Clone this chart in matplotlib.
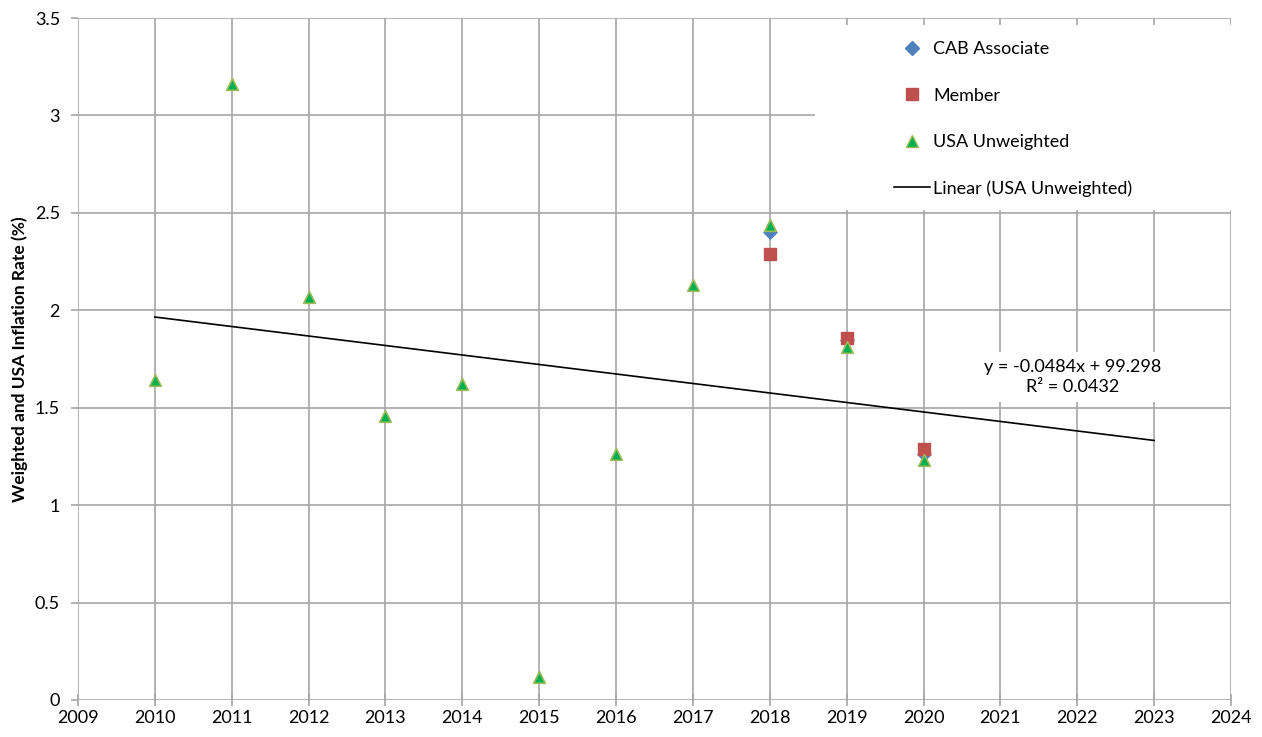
import matplotlib
matplotlib.use("Agg")
import matplotlib.pyplot as plt
import numpy as np
from matplotlib.lines import Line2D
from matplotlib.patches import Rectangle

plt.rcParams['font.family'] = ['Lato', 'DejaVu Sans']

years_usa = [2010, 2011, 2012, 2013, 2014, 2015, 2016, 2017, 2018, 2019, 2020]
usa_unweighted = [1.64, 3.16, 2.07, 1.46, 1.62, 0.12, 1.26, 2.13, 2.44, 1.81, 1.23]
years_member = [2018, 2019, 2020]
member = [2.29, 1.86, 1.29]
years_cab = [2018, 2019, 2020]
cab_associate = [2.40, 1.85, 1.26]
trend_end_year = 2023
x_ticks = list(range(2009, 2025))
y_ticks = [0, 0.5, 1, 1.5, 2, 2.5, 3, 3.5]
y_tick_labels = ['0', '0.5', '1', '1.5', '2', '2.5', '3', '3.5']
equation_text = "y = -0.0484x + 99.298\nR² = 0.0432"

fig = plt.figure(figsize=(12.62, 7.37), dpi=100)
ax = fig.add_axes([78/1262, 1-700/737, (1231-78)/1262, (700-18)/737])

grid_c = '#A6A6A6'
ax.set_xlim(2009, 2024)
ax.set_ylim(0, 3.5)
ax.set_xticks(x_ticks)
ax.set_yticks(y_ticks)
ax.set_yticklabels(y_tick_labels)
ax.grid(True, color=grid_c, linewidth=1.2, zorder=0)
for s in ax.spines.values():
    s.set_visible(False)
ax.tick_params(axis='both', colors=grid_c, labelcolor='black', labelsize=13, length=5, width=1.2)
ax.tick_params(axis='x', direction='inout', length=8, pad=3)
ax.tick_params(axis='y', direction='out', length=5, pad=8)

coef = np.polyfit(years_usa, usa_unweighted, 1)
xt = np.array([years_usa[0], trend_end_year])
ax.plot(xt, np.polyval(coef, xt), color='black', linewidth=1.2, zorder=3)

ax.scatter(years_cab, cab_associate, marker='D', s=45, color='#4F81BD', edgecolors='#4F81BD', zorder=4)
ax.scatter(years_member, member, marker='s', s=80, color='#C0504D', edgecolors='#C0504D', zorder=5)
ax.scatter(years_usa, usa_unweighted, marker='^', s=70, color='#00B050', edgecolors='#9BBB59', linewidths=1.2, zorder=6)

ax.text(2021.94, 1.658, equation_text, ha='center', va='center', fontsize=13, linespacing=1.3,
        bbox=dict(facecolor='white', edgecolor='none', pad=5), zorder=7)

ax.set_ylabel('Weighted and USA Inflation Rate (%)', fontsize=12.5, fontweight='bold', labelpad=5)

# white legend background
ax.add_patch(Rectangle((0.639, 0.7185), 0.361, 0.2715, transform=ax.transAxes,
                       facecolor='white', edgecolor='none', zorder=7))

handles = [
    Line2D([], [], marker='D', color='#4F81BD', linestyle='none', markersize=7),
    Line2D([], [], marker='s', color='#C0504D', linestyle='none', markersize=9),
    Line2D([], [], marker='^', color='#00B050', markeredgecolor='#9BBB59', linestyle='none', markersize=9),
    Line2D([], [], color='black', linewidth=1.2),
]
labels = ['CAB Associate', 'Member', 'USA Unweighted', 'Linear (USA Unweighted)']
leg = ax.legend(handles, labels, loc='upper left', bbox_to_anchor=(0.708, 0.966), frameon=False,
                fontsize=13, labelspacing=1.68, handlelength=2.0, handletextpad=0.15,
                borderpad=0.0, borderaxespad=0.0)
leg.set_zorder(8)

fig.savefig('out.png', dpi=100)
